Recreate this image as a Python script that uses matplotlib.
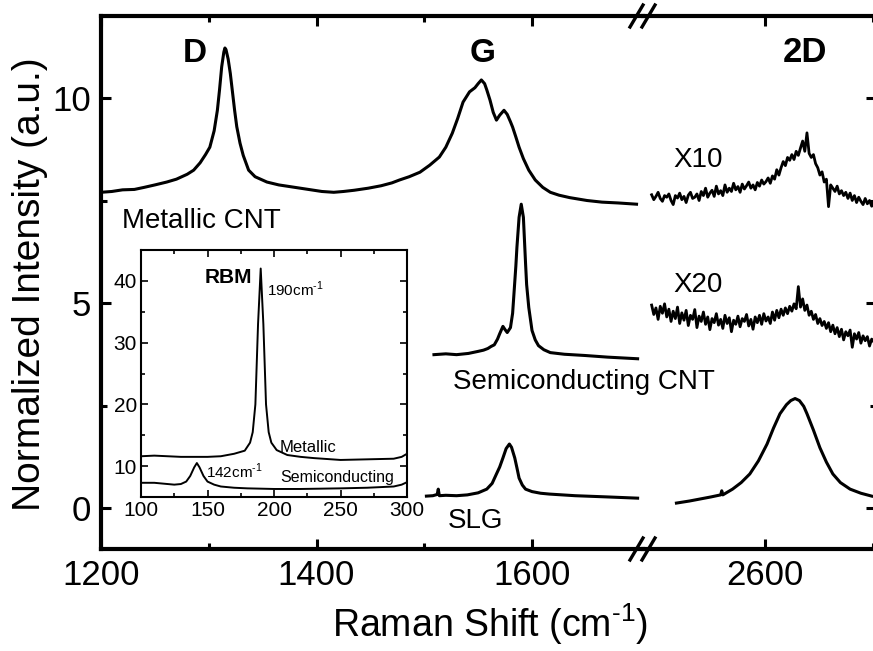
import numpy as np
import matplotlib
matplotlib.use("Agg")
import matplotlib.pyplot as plt
from matplotlib.lines import Line2D
from matplotlib.ticker import FixedLocator, MultipleLocator

plt.rcParams["font.family"] = ["Liberation Sans", "DejaVu Sans"]
plt.rcParams["mathtext.fontset"] = "custom"
plt.rcParams["mathtext.rm"] = "Liberation Sans"

# Metallic CNT, D and G region
met_x = [1200, 1210, 1220, 1231, 1240, 1250, 1261, 1270, 1280, 1286, 1292, 1297,
         1301, 1305, 1308, 1310, 1312, 1314, 1315, 1316, 1318, 1320, 1322, 1324,
         1326, 1329, 1332, 1337, 1343, 1354, 1365, 1375, 1385, 1395, 1405, 1416,
         1425, 1435, 1448, 1460, 1470, 1477, 1486, 1496, 1505, 1514, 1520, 1526,
         1531, 1536, 1542, 1547, 1550, 1553, 1556, 1558, 1561, 1564, 1567, 1570,
         1574, 1577, 1580, 1582, 1585, 1588, 1592, 1597, 1603, 1610, 1617, 1625,
         1635, 1651, 1665, 1680, 1697]
met_y = [7.70, 7.72, 7.76, 7.77, 7.82, 7.88, 7.95, 8.02, 8.14, 8.24, 8.42, 8.62,
         8.80, 9.20, 9.70, 10.20, 10.76, 11.12, 11.22, 11.18, 10.95, 10.60, 10.15, 9.70,
         9.30, 8.90, 8.60, 8.24, 8.08, 7.95, 7.88, 7.84, 7.80, 7.76, 7.72, 7.70,
         7.72, 7.75, 7.80, 7.86, 7.93, 8.00, 8.08, 8.19, 8.36, 8.56, 8.80, 9.14,
         9.50, 9.90, 10.15, 10.25, 10.35, 10.44, 10.35, 10.20, 9.95, 9.65, 9.46, 9.58,
         9.70, 9.60, 9.42, 9.29, 9.05, 8.80, 8.52, 8.24, 8.00, 7.82, 7.70, 7.63,
         7.57, 7.50, 7.46, 7.44, 7.41]

# Semiconducting CNT, G region
semi_x = [1509, 1520, 1530, 1541, 1550, 1555, 1559, 1562, 1565, 1568, 1570, 1573,
          1575, 1577, 1580, 1582, 1583, 1585, 1586, 1588, 1590, 1592, 1594, 1595,
          1597, 1600, 1603, 1606, 1611, 1617, 1630, 1649, 1670, 1698]
semi_y = [3.74, 3.76, 3.74, 3.77, 3.82, 3.85, 3.89, 3.94, 3.98, 4.12, 4.25, 4.43,
          4.35, 4.28, 4.40, 4.75, 5.13, 5.90, 6.36, 7.09, 7.41, 7.09, 5.97, 5.45,
          4.89, 4.33, 4.10, 3.96, 3.86, 3.79, 3.75, 3.72, 3.68, 3.64]

# SLG, G region
slg_x = [1502, 1508, 1512, 1513, 1514, 1520, 1530, 1540, 1550, 1558, 1563, 1567,
         1570, 1573, 1576, 1579, 1581, 1584, 1586, 1588, 1591, 1594, 1600, 1608,
         1616, 1640, 1670, 1698]
slg_y = [0.29, 0.30, 0.33, 0.46, 0.30, 0.31, 0.30, 0.32, 0.37, 0.46, 0.60, 0.83,
         1.00, 1.22, 1.45, 1.56, 1.48, 1.22, 0.98, 0.73, 0.56, 0.46, 0.40, 0.36,
         0.34, 0.30, 0.27, 0.24]

# 2D region of the nanotubes, sampled every 2 cm-1 from 2495
d2_x = np.arange(2495, 2702, 2)
met2d_y = [7.64, 7.52, 7.60, 7.70, 7.55, 7.48, 7.62, 7.58, 7.66, 7.50,
           7.40, 7.62, 7.56, 7.68, 7.52, 7.60, 7.45, 7.63, 7.70, 7.55,
           7.58, 7.66, 7.50, 7.72, 7.62, 7.80, 7.58, 7.68, 7.75, 7.60,
           7.85, 7.66, 7.74, 7.62, 7.88, 7.70, 7.80, 7.72, 7.92, 7.76,
           7.84, 7.70, 7.90, 7.78, 7.86, 7.95, 7.80, 7.88, 7.76, 7.94,
           7.85, 8.00, 7.90, 7.96, 8.05, 7.92, 8.10, 8.02, 8.25, 8.12,
           8.30, 8.45, 8.35, 8.55, 8.48, 8.62, 8.50, 8.70, 8.60, 8.78,
           8.95, 8.70, 9.15, 8.65, 8.55, 8.62, 8.40, 8.30, 8.12, 8.20,
           7.95, 8.02, 7.35, 7.88, 7.80, 7.72, 7.85, 7.66, 7.74, 7.62,
           7.70, 7.55, 7.68, 7.50, 7.62, 7.45, 7.58, 7.48, 7.40, 7.55,
           7.42, 7.50, 7.36, 7.45]
semi2d_y = [4.95, 4.72, 4.88, 4.60, 4.92, 4.75, 4.98, 4.66, 4.85, 4.55,
            4.80, 4.62, 4.90, 4.50, 4.76, 4.58, 4.82, 4.45, 4.70, 4.60,
            4.84, 4.40, 4.68, 4.55, 4.78, 4.48, 4.66, 4.35, 4.62, 4.52,
            4.74, 4.46, 4.60, 4.38, 4.70, 4.50, 4.64, 4.30, 4.58, 4.48,
            4.68, 4.42, 4.62, 4.55, 4.72, 4.44, 4.60, 4.36, 4.66, 4.52,
            4.70, 4.48, 4.74, 4.56, 4.66, 4.50, 4.78, 4.58, 4.82, 4.64,
            4.85, 4.70, 4.88, 4.74, 4.92, 4.80, 4.98, 4.86, 5.40, 4.90,
            5.10, 4.82, 4.95, 4.70, 4.80, 4.60, 4.72, 4.50, 4.62, 4.45,
            4.55, 4.38, 4.52, 4.30, 4.46, 4.25, 4.40, 4.18, 4.36, 4.10,
            4.30, 4.20, 4.34, 3.92, 4.25, 4.12, 4.28, 4.02, 4.20, 4.08,
            4.18, 3.95, 4.12, 4.05]

slg2d_x = [2518, 2530, 2540, 2550, 2559, 2560, 2561, 2570, 2578, 2586, 2594, 2602,
           2608, 2614, 2620, 2624, 2628, 2632, 2636, 2639, 2645, 2651, 2657, 2663,
           2670, 2679, 2689, 2699]
slg2d_y = [0.12, 0.17, 0.22, 0.27, 0.32, 0.42, 0.32, 0.46, 0.62, 0.83, 1.15, 1.56,
           1.95, 2.30, 2.52, 2.62, 2.67, 2.62, 2.48, 2.30, 1.90, 1.47, 1.12, 0.83,
           0.62, 0.46, 0.36, 0.29]

# RBM inset
rbm_met_x = [100, 110, 120, 130, 140, 150, 160, 170, 178, 182, 184, 186, 188, 190,
             192, 194, 196, 198, 202, 210, 220, 230, 250, 270, 290, 296, 300]
rbm_met_y = [11.6, 11.7, 11.6, 11.5, 11.5, 11.5, 11.6, 12.0, 12.5, 13.8, 15.5, 20.0,
             33.0, 42.0, 33.0, 20.0, 15.5, 13.8, 12.6, 11.8, 11.5, 11.3, 11.0, 11.1,
             11.2, 11.5, 12.0]
rbm_semi_x = [100, 110, 120, 125, 130, 134, 137, 140, 142, 144, 147, 150, 155, 160,
              170, 180, 200, 220, 250, 270, 290, 296, 300]
rbm_semi_y = [7.3, 7.3, 7.1, 7.0, 7.1, 7.5, 8.4, 9.8, 10.5, 9.8, 8.4, 7.5, 7.0, 6.7,
              6.5, 6.4, 6.3, 6.3, 6.4, 6.5, 6.7, 7.0, 7.4]

W, H = 873, 651
fig = plt.figure(figsize=(W / 100, H / 100), dpi=100)


def px_box(x0, y0, x1, y1):
    return [x0 / W, 1 - y1 / H, (x1 - x0) / W, (y1 - y0) / H]


axL = fig.add_axes(px_box(101, 16, 643, 549))
axR = fig.add_axes(px_box(643, 16, 876, 549), sharey=axL)
axR.patch.set_visible(False)

lw = 2.2
axL.plot(met_x, met_y, color="black", lw=lw)
axL.plot(semi_x, semi_y, color="black", lw=lw)
axL.plot(slg_x, slg_y, color="black", lw=lw)
axR.plot(d2_x, met2d_y, color="black", lw=2.0)
axR.plot(d2_x, semi2d_y, color="black", lw=2.0)
axR.plot(slg2d_x, slg2d_y, color="black", lw=lw)

axL.set_xlim(1200, 1703)
axR.set_xlim(2487, 2703)
axL.set_ylim(-1, 12)

for ax in (axL, axR):
    for s in ax.spines.values():
        s.set_linewidth(3)
    ax.tick_params(which="both", direction="in", width=2.2, top=True, bottom=True,
                   labelsize=25, pad=7)
    ax.tick_params(which="major", length=7)
    ax.tick_params(which="minor", length=4)
axL.spines["right"].set_visible(False)
axR.spines["left"].set_visible(False)

axL.xaxis.set_major_locator(FixedLocator([1200, 1400, 1600]))
axL.xaxis.set_minor_locator(FixedLocator([1300, 1500]))
axR.xaxis.set_major_locator(FixedLocator([2600]))
axR.xaxis.set_minor_locator(FixedLocator([2700]))
axL.yaxis.set_major_locator(FixedLocator([0, 5, 10]))
axL.yaxis.set_minor_locator(FixedLocator([2.5, 7.5]))
axL.tick_params(axis="y", which="both", left=True, right=False)
axR.tick_params(axis="y", which="both", left=False, right=True, labelleft=False,
                labelright=False)

# axis break marks
for yb in (16, 549):
    for xs in (630, 642):
        fig.add_artist(Line2D([xs / W, (xs + 13) / W], [1 - (yb + 11) / H, 1 - (yb - 11) / H],
                              color="black", lw=2.4))

# peak and sample labels
axL.text(1287, 10.88, "D", fontsize=24, fontweight="bold", ha="center", va="baseline")
axL.text(1554, 10.88, "G", fontsize=24, fontweight="bold", ha="center", va="baseline")
axR.text(2637, 10.88, "2D", fontsize=25, fontweight="bold", ha="center", va="baseline")
axL.text(1219.5, 6.82, "Metallic CNT", fontsize=20, va="baseline")
axL.text(1526.5, 2.91, "Semiconducting CNT", fontsize=20, va="baseline")
axL.text(1522, -0.49, "SLG", fontsize=20, va="baseline")
axR.text(2514.7, 8.31, "X10", fontsize=20, va="baseline")
axR.text(2514.7, 5.26, "X20", fontsize=20, va="baseline")

fig.text(490 / W, 1 - 637 / H, r"Raman Shift (cm$^{\text{-1}}$)", fontsize=27,
         ha="center", va="baseline")
fig.text(30 / W, 1 - 284 / H, "Normalized Intensity (a.u.)", fontsize=28,
         rotation=90, ha="center", va="center")

# RBM inset
ins = fig.add_axes(px_box(141, 250, 407, 497), zorder=5)
ins.set_facecolor("white")
ins.plot(rbm_met_x, rbm_met_y, color="black", lw=1.4)
ins.plot(rbm_semi_x, rbm_semi_y, color="black", lw=1.4)
ins.set_xlim(100, 300)
ins.set_ylim(5, 45)
for s in ins.spines.values():
    s.set_linewidth(1.5)
ins.xaxis.set_major_locator(MultipleLocator(50))
ins.xaxis.set_minor_locator(MultipleLocator(25))
ins.yaxis.set_major_locator(FixedLocator([10, 20, 30, 40]))
ins.yaxis.set_minor_locator(MultipleLocator(5))
ins.tick_params(which="both", direction="in", top=True, right=True, width=1.2,
                labelsize=15, pad=3)
ins.tick_params(which="major", length=5)
ins.tick_params(which="minor", length=3)

ins.text(165.4, 40.5, "RBM", fontsize=15, fontweight="bold", ha="center", va="center")
ins.text(194.5, 37.6, r"190cm$^{\text{-1}}$", fontsize=11, va="baseline")
ins.text(149, 8.0, r"142cm$^{\text{-1}}$", fontsize=11, va="baseline")
ins.text(204.5, 12.3, "Metallic", fontsize=12, va="baseline")
ins.text(204.5, 7.5, "Semiconducting", fontsize=11.5, va="baseline")

fig.savefig("out.png", dpi=100)
